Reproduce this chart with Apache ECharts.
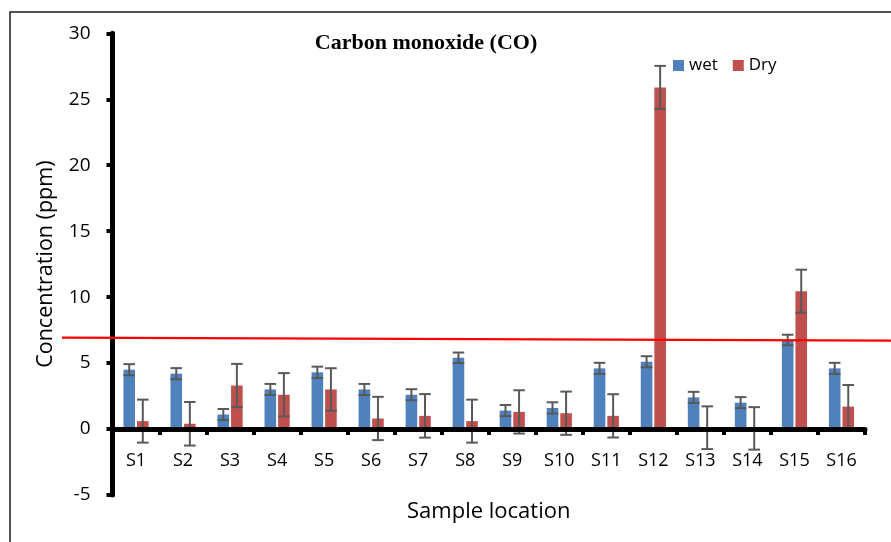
<!DOCTYPE html>
<html>
<head>
<meta charset="utf-8">
<script src="https://cdn.jsdelivr.net/npm/echarts@6/dist/echarts.min.js"></script>
<style>
html,body{margin:0;padding:0;background:#fff;}
#chart{width:891px;height:542px;}
</style>
</head>
<body>
<div id="chart"></div>
<script>
// ---- data ----
const categories = ['S1','S2','S3','S4','S5','S6','S7','S8','S9','S10','S11','S12','S13','S14','S15','S16'];
const wet    = [4.5, 4.2, 1.1, 3.0, 4.3, 3.0, 2.6, 5.4, 1.4, 1.6, 4.6, 5.1, 2.4, 2.0, 6.75, 4.6];
const wetErr = [0.42, 0.42, 0.42, 0.42, 0.43, 0.42, 0.42, 0.40, 0.42, 0.43, 0.42, 0.42, 0.42, 0.42, 0.40, 0.42];
const dry    = [0.6, 0.4, 3.3, 2.6, 3.0, 0.8, 1.0, 0.6, 1.3, 1.2, 1.0, 25.9, 0.1, 0.05, 10.45, 1.7];
const dryErr = [1.63, 1.65, 1.64, 1.64, 1.61, 1.64, 1.65, 1.63, 1.64, 1.64, 1.64, 1.63, 1.62, 1.61, 1.63, 1.64];
const yTicks = [-5, 0, 5, 10, 15, 20, 25, 30];
const threshold = [6.93, 6.70]; // left end, right end of the red guideline (ppm)

// ---- chart ----
const chart = echarts.init(document.getElementById('chart'), null, {renderer:'canvas'});
const FONT = '"Open Sans", "Liberation Sans", sans-serif';
const BAR_W = 11.6;
const GAP_PCT = 17;
const OFF = (BAR_W + BAR_W * GAP_PCT / 100) / 2;

function errData(vals, errs){
  return vals.map((v,i) => [i, v - errs[i], v + errs[i]]);
}
function errRender(offset){
  return function(params, api){
    const lo = api.coord([api.value(0), api.value(1)]);
    const hi = api.coord([api.value(0), api.value(2)]);
    const x = lo[0] + offset;
    const hw = BAR_W / 2;
    const style = {stroke:'#595959', lineWidth:2};
    return {type:'group', children:[
      {type:'line', shape:{x1:x, y1:lo[1], x2:x, y2:hi[1]}, style:style},
      {type:'line', shape:{x1:x-hw, y1:hi[1], x2:x+hw, y2:hi[1]}, style:style},
      {type:'line', shape:{x1:x-hw, y1:lo[1], x2:x+hw, y2:lo[1]}, style:style}
    ]};
  };
}

chart.setOption({
  animation:false,
  backgroundColor:'#fff',
  title:{
    text:'Carbon monoxide (CO)',
    left:426, top:32, textAlign:'center', padding:0,
    textStyle:{fontFamily:'"Liberation Serif", "Times New Roman", serif', fontWeight:'bold', fontSize:22, color:'#000'}
  },
  legend:{
    data:['wet','Dry'],
    left:673, top:57, padding:0,
    itemWidth:11, itemHeight:11, itemGap:15, icon:'rect',
    textStyle:{fontFamily:FONT, fontSize:17, color:'#000'}
  },
  grid:{left:112.5, right:26, top:33.3, bottom:47, containLabel:false, outerBoundsMode:'none'},
  xAxis:{
    type:'category',
    data:categories,
    z:10,
    name:'Sample location',
    nameLocation:'middle',
    nameGap:6,
    nameTextStyle:{fontFamily:FONT, fontSize:22, color:'#000'},
    axisLine:{onZero:true, lineStyle:{color:'#000', width:5}},
    axisTick:{show:true, inside:false, length:6, lineStyle:{color:'#000', width:4}},
    axisLabel:{fontFamily:FONT, fontSize:18, color:'#000', margin:-43},
    splitLine:{show:false}
  },
  yAxis:{
    type:'value',
    min:yTicks[0], max:yTicks[yTicks.length-1], interval:5,
    z:10,
    name:'Concentration (ppm)',
    nameLocation:'middle',
    nameGap:56,
    nameTextStyle:{fontFamily:FONT, fontSize:21.5, color:'#000'},
    axisLine:{show:true, lineStyle:{color:'#000', width:5}},
    axisTick:{show:true, inside:false, length:6, lineStyle:{color:'#000', width:4}},
    axisLabel:{fontFamily:FONT, fontSize:19, color:'#000', margin:22},
    splitLine:{show:false}
  },
  series:[
    {name:'wet', type:'bar', data:wet, barWidth:BAR_W, barGap:GAP_PCT+'%', itemStyle:{color:'#4F81BD'}},
    {name:'Dry', type:'bar', data:dry, barWidth:BAR_W, barGap:GAP_PCT+'%', itemStyle:{color:'#C0504D'}},
    {name:'wetErr', type:'custom', data:errData(wet, wetErr), encode:{x:0, y:[1,2]}, renderItem:errRender(-OFF), z:5, silent:true},
    {name:'dryErr', type:'custom', data:errData(dry, dryErr), encode:{x:0, y:[1,2]}, renderItem:errRender(OFF), z:5, silent:true}
  ]
});

// red guideline and outer frame, positioned through the y axis scale
const yL = chart.convertToPixel({yAxisIndex:0}, threshold[0]);
const yR = chart.convertToPixel({yAxisIndex:0}, threshold[1]);
chart.setOption({
  graphic:[
    {type:'line', z:100, shape:{x1:62, y1:yL, x2:891, y2:yR}, style:{stroke:'#FF0000', lineWidth:2.2}},
    {type:'polyline', z:100, shape:{points:[[10,542],[10,12],[891,12]]}, style:{stroke:'#1a1a1a', lineWidth:1.5, fill:null}}
  ]
});
</script>
</body>
</html>
